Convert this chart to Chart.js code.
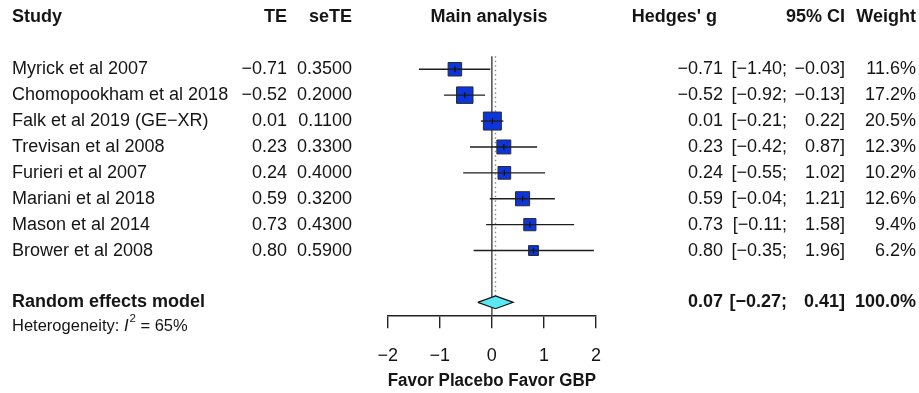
<!DOCTYPE html>
<html>
<head>
<meta charset="utf-8">
<title>Forest plot - Main analysis</title>
<script src="https://cdn.jsdelivr.net/npm/chart.js@4.4.1/dist/chart.umd.min.js"></script>
<style>
  html, body { margin: 0; padding: 0; background: #fff; }
  #wrap { width: 919px; height: 393px; }
</style>
</head>
<body>
<div id="wrap"><canvas id="forest" width="919" height="393"></canvas></div>
<script>
// Study level data
const studies = [
  "Myrick et al 2007",
  "Chomopookham et al 2018",
  "Falk et al 2019 (GE\u2212XR)",
  "Trevisan et al 2008",
  "Furieri et al 2007",
  "Mariani et al 2018",
  "Mason et al 2014",
  "Brower et al 2008"
]
const te = [-0.71, -0.52, 0.01, 0.23, 0.24, 0.59, 0.73, 0.80]
const seTE = [0.35, 0.20, 0.11, 0.33, 0.40, 0.32, 0.43, 0.59]
const ciLow = [-1.40, -0.92, -0.21, -0.42, -0.55, -0.04, -0.11, -0.35]
const ciHigh = [-0.03, -0.13, 0.22, 0.87, 1.02, 1.21, 1.58, 1.96]
const weights = [11.6, 17.2, 20.5, 12.3, 10.2, 12.6, 9.4, 6.2]

// Random effects model
const pooledEst = 0.07
const pooledLow = -0.27
const pooledHigh = 0.41
const pooledWeight = 100.0
const i2 = 65

// Axis
const xTicks = [-2, -1, 0, 1, 2]
const xTitle = "Favor Placebo Favor GBP"

// Row layout (row 0 = header)
const firstRow = 2
const pooledRow = firstRow + studies.length + 1
const hetRow = pooledRow + 1

const FONT = "'Liberation Sans', Arial, Helvetica, sans-serif"
const INK = "#151515"

// R style minus sign
function fmt(v, d) {
  return (v < 0 ? "\u2212" : "") + Math.abs(v).toFixed(d)
}

const rows = studies.map((s, i) => firstRow + i)

// CI whiskers, one dataset per study
const ciSets = studies.map((s, i) => ({
  data: [{ x: ciLow[i], y: rows[i] }, { x: ciHigh[i], y: rows[i] }],
  borderColor: "#1e1e1e",
  borderWidth: 1.4,
  pointRadius: 0,
  order: 3
}))

// Diamond for the pooled estimate
const dh = 0.245
const diamond = {
  data: [
    { x: pooledLow, y: pooledRow },
    { x: pooledEst, y: pooledRow - dh },
    { x: pooledHigh, y: pooledRow },
    { x: pooledEst, y: pooledRow + dh },
    { x: pooledLow, y: pooledRow }
  ],
  borderColor: "#111",
  borderWidth: 1.2,
  backgroundColor: "#5ce8f2",
  fill: "shape",
  pointRadius: 0,
  order: 1
}

const datasets = [
  // line of no effect
  {
    data: [{ x: 0, y: firstRow - 0.5 }, { x: 0, y: pooledRow + 0.5 }],
    borderColor: "#5a5a5a",
    borderWidth: 1.6,
    pointRadius: 0,
    order: 10
  },
  // pooled estimate (dotted)
  {
    data: [{ x: pooledEst, y: firstRow - 0.5 }, { x: pooledEst, y: pooledRow - dh }],
    borderColor: "#8a8a8a",
    borderWidth: 1.4,
    borderDash: [1.5, 3],
    pointRadius: 0,
    order: 9
  },
  // weighted squares
  {
    data: te.map((v, i) => ({ x: v, y: rows[i] })),
    showLine: false,
    pointStyle: "rect",
    pointRadius: weights.map(w => (3.97 * Math.sqrt(w)) / Math.SQRT2),
    pointBackgroundColor: "#0d35dc",
    pointBorderColor: "#2a2a2a",
    pointBorderWidth: 1,
    order: 5
  },
  ...ciSets,
  // small vertical mark at each estimate
  {
    data: te.map((v, i) => ({ x: v, y: rows[i] })),
    showLine: false,
    pointStyle: "line",
    pointRotation: 90,
    pointRadius: 3,
    pointBorderColor: "#111",
    pointBorderWidth: 1.3,
    order: 2
  },
  diamond
]

// Table text drawn next to the plot
const tablePlugin = {
  id: "forestTable",
  afterDraw(chart) {
    const ctx = chart.ctx
    const yScale = chart.scales.y
    const rowY = r => yScale.getPixelForValue(r)

    const text = (str, x, y, align, bold, size) => {
      ctx.font = (bold ? "bold " : "") + (size || 18) + "px " + FONT
      ctx.textAlign = align
      ctx.fillText(str, x, y)
    }

    ctx.save()
    ctx.fillStyle = INK
    ctx.textBaseline = "middle"

    // headers
    const hy = rowY(0)
    text("Study", 12, hy, "left", true)
    text("TE", 287, hy, "right", true)
    text("seTE", 352, hy, "right", true)
    text("Main analysis", 489, hy, "center", true)
    text("Hedges' g", 717, hy, "right", true)
    text("95% CI", 845, hy, "right", true)
    text("Weight", 916, hy, "right", true)

    // study rows
    studies.forEach((s, i) => {
      const y = rowY(rows[i])
      text(s, 12, y, "left")
      text(fmt(te[i], 2), 287, y, "right")
      text(seTE[i].toFixed(4), 352, y, "right")
      text(fmt(te[i], 2), 723, y, "right")
      text("[" + fmt(ciLow[i], 2) + ";", 787, y, "right")
      text(fmt(ciHigh[i], 2) + "]", 845, y, "right")
      text(weights[i].toFixed(1) + "%", 916, y, "right")
    })

    // pooled row
    const py = rowY(pooledRow)
    text("Random effects model", 12, py, "left", true)
    text(fmt(pooledEst, 2), 723, py, "right", true)
    text("[" + fmt(pooledLow, 2) + ";", 787, py, "right", true)
    text(fmt(pooledHigh, 2) + "]", 845, py, "right", true)
    text(pooledWeight.toFixed(1) + "%", 916, py, "right", true)

    // heterogeneity
    const ty = rowY(hetRow) - 2
    let x = 12
    ctx.textAlign = "left"
    ctx.font = "16.5px " + FONT
    ctx.fillText("Heterogeneity: ", x, ty)
    x += ctx.measureText("Heterogeneity: ").width
    ctx.font = "italic 16.5px " + FONT
    ctx.fillText("I", x, ty)
    x += ctx.measureText("I").width + 1
    ctx.font = "11.5px " + FONT
    ctx.fillText("2", x, ty - 7)
    x += ctx.measureText("2").width
    ctx.font = "16.5px " + FONT
    ctx.fillText(" = " + i2 + "%", x, ty)

    ctx.restore()
  }
}

new Chart(document.getElementById("forest"), {
  type: "line",
  data: { datasets: datasets },
  plugins: [tablePlugin],
  options: {
    responsive: false,
    animation: false,
    events: [],
    clip: false,
    layout: { autoPadding: false, padding: { left: 387.7, right: 323, top: 4.5, bottom: 0 } },
    plugins: {
      legend: { display: false },
      tooltip: { enabled: false }
    },
    scales: {
      x: {
        type: "linear",
        min: xTicks[0],
        max: xTicks[xTicks.length - 1],
        afterBuildTicks: scale => {
          scale.ticks = xTicks.map(v => ({ value: v }))
        },
        afterFit: scale => {
          scale.height = 77.7
        },
        border: { display: true, color: "#222", width: 1.4 },
        grid: { drawOnChartArea: false, drawTicks: true, tickLength: 13, color: "#222", lineWidth: 1.4 },
        ticks: {
          padding: 17,
          color: INK,
          maxRotation: 0,
          font: { family: FONT, size: 18 },
          callback: v => fmt(v, 0)
        },
        title: {
          display: true,
          text: xTitle,
          color: INK,
          font: { family: FONT, size: 18, weight: "bold" },
          padding: { top: 0, bottom: 1 }
        }
      },
      y: {
        type: "linear",
        reverse: true,
        min: -0.5,
        max: pooledRow + 0.5,
        display: false
      }
    }
  }
})
</script>
</body>
</html>
